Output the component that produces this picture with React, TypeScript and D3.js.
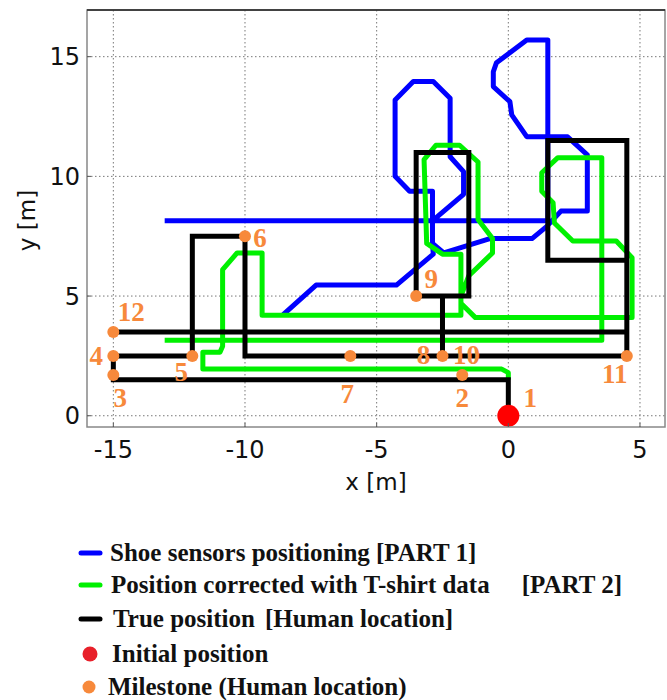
import React, { useEffect, useRef } from 'react';
import * as d3 from 'd3';

type Pt = [number, number];

// Shoe sensors positioning [PART 1]
const shoePath: Pt[] = [
  [-13.05, 8.15], [1.5, 8.15], [1.5, 15.7], [0.7, 15.7], [-0.45, 14.75], [-0.57, 14.37],
  [-0.57, 13.75], [0.06, 13.12], [0.13, 12.57], [0.7, 11.66], [2.25, 11.65], [3.0, 10.9],
  [3.0, 8.55], [2.0, 8.55], [1.45, 7.9], [0.9, 7.4], [-0.7, 7.4], [-2.45, 6.8],
  [-2.88, 7.2], [-2.88, 9.38], [-3.75, 9.38], [-4.3, 10.0], [-4.3, 13.19], [-3.61, 13.96],
  [-2.85, 13.96], [-2.21, 13.26], [-2.21, 10.82], [-1.7, 10.2], [-1.7, 9.25], [-2.75, 8.27],
  [-2.88, 8.15], [-2.88, 7.2], [-2.85, 6.75], [-4.25, 5.46], [-7.3, 5.46], [-8.55, 4.22],
];

// Position corrected with T-shirt data [PART 2]
const tshirtPath: Pt[] = [
  [0, 1.5], [0, 1.8], [-0.25, 1.95], [-11.6, 1.95], [-11.6, 2.65], [-10.95, 2.65],
  [-10.85, 2.9], [-10.85, 6.1], [-10.3, 6.8], [-9.35, 6.8], [-9.35, 4.2], [-1.8, 4.2],
  [-1.8, 6.75], [-2.5, 6.75], [-3.1, 7.2], [-3.2, 10.7], [-2.75, 11.3], [-1.85, 11.3],
  [-1.15, 10.6], [-1.15, 8.2], [-0.6, 7.4], [-0.6, 6.8], [-1.5, 5.85], [-1.8, 5.0],
  [-1.8, 4.7], [-1.25, 4.1], [4.7, 4.1], [4.7, 6.6], [4.1, 7.3], [2.45, 7.3],
  [1.75, 8.05], [1.7, 8.9], [1.27, 9.38], [1.27, 10.15], [1.88, 10.78], [3.55, 10.78],
  [3.55, 3.15], [-13.05, 3.15],
];

// True position [Human location]
const truePath: Pt[] = [
  [0, 0], [0, 1.5], [-15, 1.5], [-15, 2.5], [-12, 2.5], [-12, 7.5], [-10, 7.5],
  [-10, 2.5], [-2.5, 2.5], [-2.5, 5], [-3.5, 5], [-3.5, 11], [-1.5, 11], [-1.5, 5],
  [-2.5, 5], [-2.5, 2.5], [4.5, 2.5], [4.5, 11.5], [1.5, 11.5], [1.5, 6.5], [4.5, 6.5],
  [4.5, 3.5], [-15, 3.5],
];

const initialPosition: Pt = [0, 0];

const milestonePoints: Pt[] = [
  [-1.75, 1.7], [-15, 1.7], [-15, 2.5], [-12, 2.5], [-10, 7.5], [-6, 2.5],
  [-2.5, 2.5], [-3.5, 5], [4.5, 2.5], [-15, 3.5],
];

const labelNames = ['1', '2', '3', '4', '5', '6', '7', '8', '9', '10', '11', '12'];
const labelAnchors: Pt[] = [
  [0, 0], [-1.75, 1.7], [-15, 1.7], [-15, 2.5], [-12, 2.5], [-10, 7.5],
  [-6, 2.5], [-2.5, 2.5], [-3.5, 5], [-2.5, 2.5], [4.5, 2.5], [-15, 3.5],
];
// pixel placement of each number around its point
const labelOffsets: Pt[] = [
  [22, -18], [0, 22], [7, 22], [-17, 0], [-11, 16], [15, 1],
  [-3, 38], [-19, -1], [15, -18], [24, -1], [-12, 18], [18, -20],
];

const xTicks = [-15, -10, -5, 0, 5];
const yTicks = [0, 5, 10, 15];

const legendLabels = [
  'Shoe sensors positioning [PART 1]',
  'Position corrected with T-shirt data  [PART 2]',
  'True position  [Human location]',
  'Initial position',
  'Milestone (Human location)',
];

const BLUE = '#0000ff';
const GREEN = '#00f000';
const ORANGE = '#f7893b';
const RED = '#ff0000';

const App: React.FC = () => {
  const svgRef = useRef<SVGSVGElement>(null);

  useEffect(() => {
    if (!svgRef.current) return;
    const svg = d3.select(svgRef.current);
    svg.selectAll('*').remove();

    const left = 87, right = 665, top = 10, bottom = 427;
    const x = d3.scaleLinear().domain([-16, 5.95]).range([left, right]);
    const y = d3.scaleLinear().domain([-0.47, 16.95]).range([bottom, top]);

    const sans = '"DejaVu Sans", Verdana, sans-serif';
    const serif = '"Liberation Serif", "Times New Roman", serif';

    // grid
    const grid = svg.append('g')
      .attr('stroke', '#777')
      .attr('stroke-width', 1)
      .attr('stroke-dasharray', '1.5,2.5');
    xTicks.forEach(t => {
      grid.append('line').attr('x1', x(t)).attr('x2', x(t)).attr('y1', top).attr('y2', bottom);
    });
    yTicks.forEach(t => {
      grid.append('line').attr('x1', left).attr('x2', right).attr('y1', y(t)).attr('y2', y(t));
    });

    const line = d3.line<Pt>().x(d => x(d[0])).y(d => y(d[1]));

    svg.append('path')
      .attr('d', line(shoePath))
      .attr('fill', 'none')
      .attr('stroke', BLUE)
      .attr('stroke-width', 5)
      .attr('stroke-linejoin', 'round');

    svg.append('path')
      .attr('d', line(tshirtPath))
      .attr('fill', 'none')
      .attr('stroke', GREEN)
      .attr('stroke-width', 5)
      .attr('stroke-linejoin', 'round');

    svg.append('path')
      .attr('d', line(truePath))
      .attr('fill', 'none')
      .attr('stroke', '#000')
      .attr('stroke-width', 5)
      .attr('stroke-linejoin', 'miter')
      .attr('stroke-linecap', 'square');

    // milestones
    svg.append('g')
      .selectAll('circle')
      .data(milestonePoints)
      .enter()
      .append('circle')
      .attr('cx', d => x(d[0]))
      .attr('cy', d => y(d[1]))
      .attr('r', 6)
      .attr('fill', ORANGE);

    svg.append('circle')
      .attr('cx', x(initialPosition[0]))
      .attr('cy', y(initialPosition[1]))
      .attr('r', 11)
      .attr('fill', RED);

    svg.append('g')
      .selectAll('text')
      .data(labelNames)
      .enter()
      .append('text')
      .attr('x', (d, i) => x(labelAnchors[i][0]) + labelOffsets[i][0])
      .attr('y', (d, i) => y(labelAnchors[i][1]) + labelOffsets[i][1] + 9.5)
      .attr('text-anchor', 'middle')
      .style('font-family', serif)
      .style('font-weight', 'bold')
      .style('font-size', '27px')
      .attr('fill', ORANGE)
      .text(d => d);

    // frame
    svg.append('rect')
      .attr('x', left).attr('y', top)
      .attr('width', right - left).attr('height', bottom - top)
      .attr('fill', 'none')
      .attr('stroke', '#888')
      .attr('stroke-width', 1.5);
    svg.append('line')
      .attr('x1', left).attr('x2', right).attr('y1', top).attr('y2', top)
      .attr('stroke', '#222').attr('stroke-width', 1.5);

    // ticks + labels
    const axisG = svg.append('g').style('font-family', sans).style('font-size', '24px');
    xTicks.forEach(t => {
      axisG.append('line')
        .attr('x1', x(t)).attr('x2', x(t)).attr('y1', bottom).attr('y2', bottom - 4)
        .attr('stroke', '#555');
      axisG.append('text')
        .attr('x', x(t)).attr('y', bottom + 31)
        .attr('text-anchor', 'middle')
        .attr('fill', '#111')
        .text(t);
    });
    yTicks.forEach(t => {
      axisG.append('line')
        .attr('x1', left).attr('x2', left + 4).attr('y1', y(t)).attr('y2', y(t))
        .attr('stroke', '#555');
      axisG.append('text')
        .attr('x', left - 7).attr('y', y(t) + 8.5)
        .attr('text-anchor', 'end')
        .attr('fill', '#111')
        .text(t);
    });

    svg.append('text')
      .attr('x', (left + right) / 2).attr('y', 490)
      .attr('text-anchor', 'middle')
      .style('font-family', sans).style('font-size', '23px')
      .attr('fill', '#111')
      .text('x [m]');
    svg.append('text')
      .attr('transform', `translate(35, ${(top + bottom) / 2 + 2}) rotate(-90)`)
      .attr('text-anchor', 'middle')
      .style('font-family', sans).style('font-size', '23px')
      .attr('fill', '#111')
      .text('y [m]');

    // legend
    const rowBase = [561, 593, 627, 662, 695];
    const rowX = [110, 111, 113, 112, 108];
    const suffixGap = [0, 32, 10, 0, 0];
    const legend = svg.append('g');
    legendLabels.forEach((label, i) => {
      const cy = rowBase[i] - 8;
      if (i < 3) {
        legend.append('line')
          .attr('x1', 81).attr('x2', 100).attr('y1', cy).attr('y2', cy)
          .attr('stroke', [BLUE, GREEN, '#000'][i])
          .attr('stroke-width', 5)
          .attr('stroke-linecap', 'round');
      } else {
        legend.append('circle')
          .attr('cx', i === 3 ? 90 : 89).attr('cy', cy)
          .attr('r', i === 3 ? 7.5 : 6.5)
          .attr('fill', i === 3 ? '#e8202a' : ORANGE);
      }
      const parts = label.split(/\s{2,}/);
      const txt = legend.append('text')
        .attr('x', rowX[i])
        .attr('y', rowBase[i])
        .style('font-family', serif)
        .style('font-weight', 'bold')
        .style('font-size', '25px')
        .attr('fill', '#111');
      txt.append('tspan').text(parts[0]);
      if (parts.length > 1) {
        txt.append('tspan').attr('dx', suffixGap[i]).text(parts[1]);
      }
    });
  }, []);

  return (
    <svg
      ref={svgRef}
      width={667}
      height={700}
      style={{ position: 'absolute', left: 0, top: 0, background: '#fff' }}
    />
  );
};

export default App;
